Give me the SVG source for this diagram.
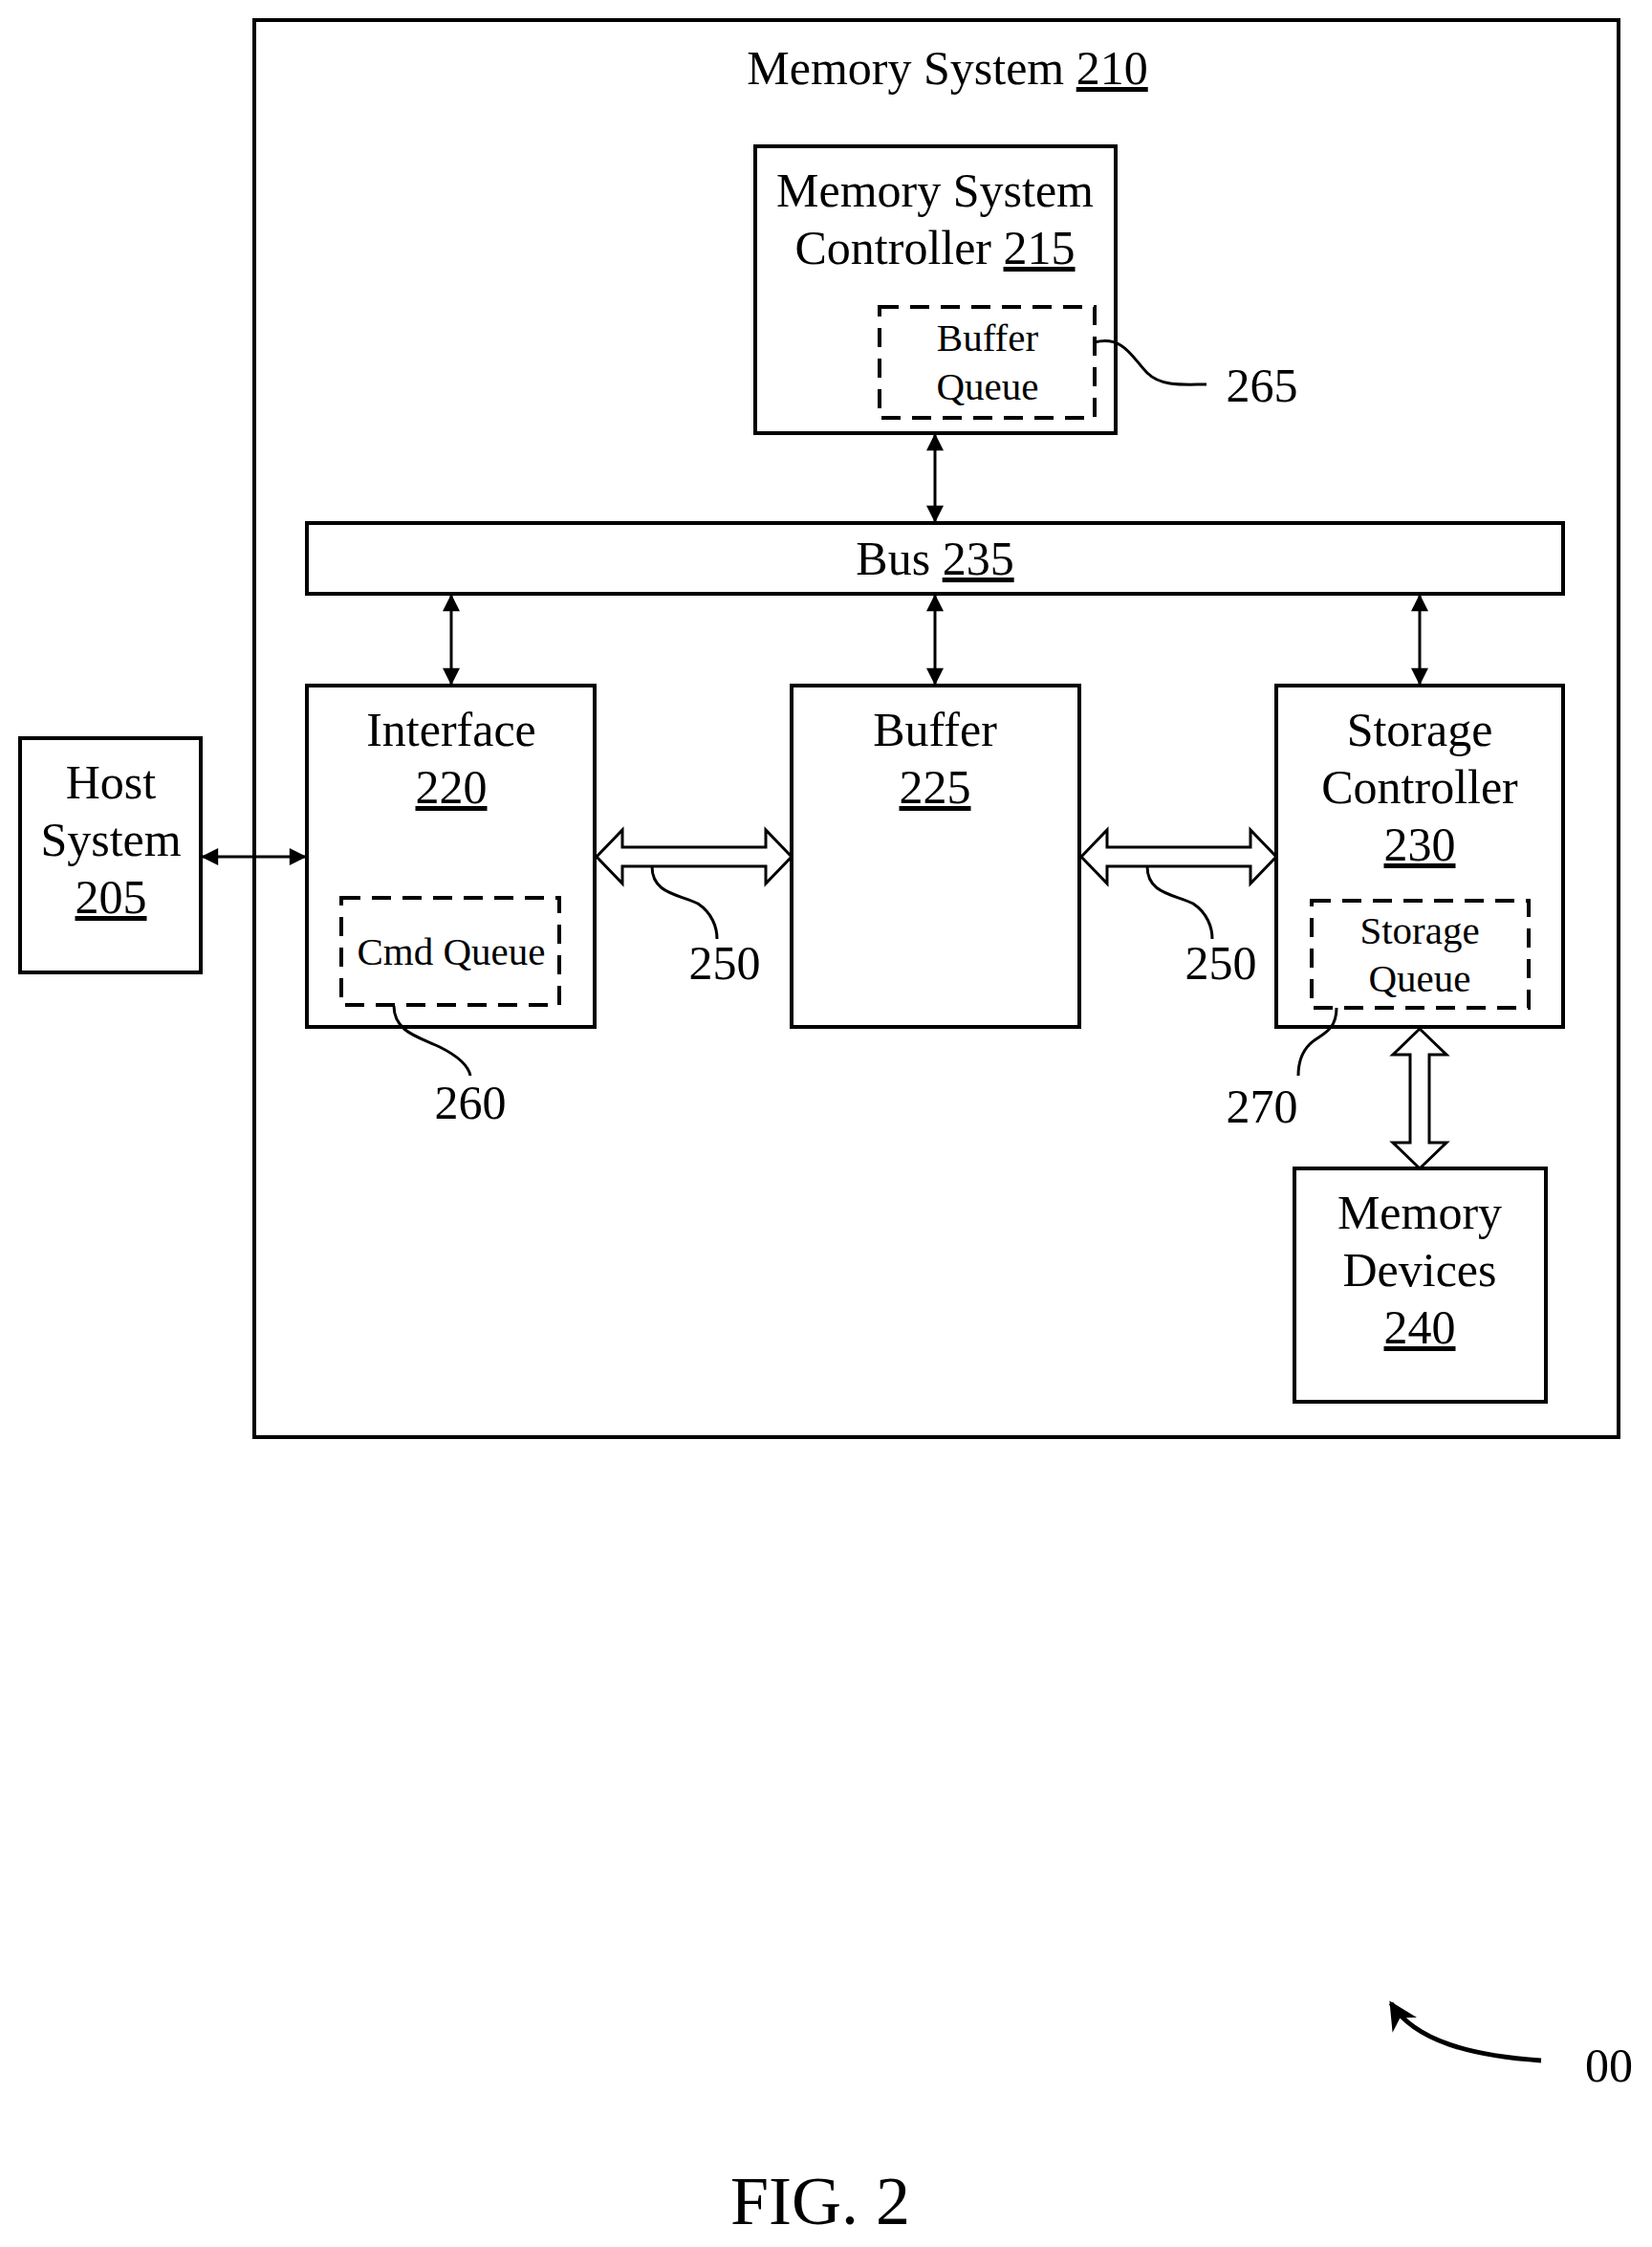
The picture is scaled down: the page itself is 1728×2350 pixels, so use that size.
<svg xmlns="http://www.w3.org/2000/svg" width="1728" height="2350" viewBox="0 0 1728 2350">
<style>
.b{fill:#fff;stroke:#000;stroke-width:4}
.d{fill:none;stroke:#000;stroke-width:4;stroke-dasharray:20 12}
.l{fill:none;stroke:#000;stroke-width:3}
.h{fill:#fff;stroke:#000;stroke-width:3}
text{font-family:"Liberation Serif",serif;font-size:50px;text-anchor:middle;fill:#000}
.s{font-size:41px}
</style>
<defs>
<marker id="a" viewBox="0 0 10 10" refX="9" refY="5" markerWidth="7" markerHeight="6" orient="auto-start-reverse"><path d="M0,0 L10,5 L0,10 z"/></marker>
<marker id="a2" viewBox="0 0 10 10" refX="9" refY="5" markerWidth="6" markerHeight="6" orient="auto"><path d="M0,0 L10,5 L0,10 L3,5 z"/></marker>
</defs>
<rect x="0" y="0" width="1728" height="2350" fill="#fff"/>
<g id="memsys"><rect class="b" x="266" y="21" width="1427" height="1482"/><text x="991" y="88">Memory System <tspan text-decoration="underline">210</tspan></text></g>
<g id="msc"><rect class="b" x="790" y="153" width="377" height="300"/><text x="978" y="216">Memory System</text><text x="978" y="276">Controller <tspan text-decoration="underline">215</tspan></text>
<rect class="d" x="920" y="321" width="225" height="116"/><text class="s" x="1033" y="367">Buffer</text><text class="s" x="1033" y="418">Queue</text></g>
<g id="bus"><rect class="b" x="321" y="547" width="1314" height="74"/><text x="978" y="601">Bus <tspan text-decoration="underline">235</tspan></text></g>
<g id="iface"><rect class="b" x="321" y="717" width="301" height="357"/><text x="472" y="780">Interface</text><text x="472" y="840" text-decoration="underline">220</text>
<rect class="d" x="357" y="939" width="228" height="112"/><text class="s" x="472" y="1009">Cmd Queue</text></g>
<g id="buffer"><rect class="b" x="828" y="717" width="301" height="357"/><text x="978" y="780">Buffer</text><text x="978" y="840" text-decoration="underline">225</text></g>
<g id="sc"><rect class="b" x="1335" y="717" width="300" height="357"/><text x="1485" y="780">Storage</text><text x="1485" y="840">Controller</text><text x="1485" y="900" text-decoration="underline">230</text>
<rect class="d" x="1372" y="942" width="227" height="112"/><text class="s" x="1485" y="987">Storage</text><text class="s" x="1485" y="1037">Queue</text></g>
<g id="host"><rect class="b" x="21" y="772" width="189" height="245"/><text x="116" y="835">Host</text><text x="116" y="895">System</text><text x="116" y="955" text-decoration="underline">205</text></g>
<g id="md"><rect class="b" x="1354" y="1222" width="263" height="244"/><text x="1485" y="1285">Memory</text><text x="1485" y="1345">Devices</text><text x="1485" y="1405" text-decoration="underline">240</text></g>
<g id="connectors">
<g class="l" marker-start="url(#a)" marker-end="url(#a)">
<line x1="978" y1="455" x2="978" y2="545"/>
<line x1="472" y1="623" x2="472" y2="715"/>
<line x1="978" y1="623" x2="978" y2="715"/>
<line x1="1485" y1="623" x2="1485" y2="715"/>
<line x1="212" y1="896" x2="319" y2="896"/>
</g>
<path class="h" d="M624,896 L651,868 L651,886 L801,886 L801,868 L828,896 L801,924 L801,906 L651,906 L651,924 Z"/>
<path class="h" d="M1131,896 L1158,868 L1158,886 L1308,886 L1308,868 L1335,896 L1308,924 L1308,906 L1158,906 L1158,924 Z"/>
<path class="h" d="M1485,1076 L1513,1103 L1495,1103 L1495,1195 L1513,1195 L1485,1222 L1457,1195 L1475,1195 L1475,1103 L1457,1103 Z"/>
<path class="l" d="M1145,358 C1175,350 1185,375 1200,390 C1215,405 1240,402 1262,402"/>
<path class="l" d="M412,1052 C412,1080 440,1085 460,1095 C480,1105 490,1115 492,1125"/>
<path class="l" d="M682,906 C682,935 710,935 730,945 C745,955 750,970 750,982"/>
<path class="l" d="M1200,906 C1200,935 1228,935 1248,945 C1263,955 1268,970 1268,982"/>
<path class="l" d="M1398,1054 C1398,1080 1380,1082 1370,1092 C1360,1102 1358,1115 1358,1125"/>
<path d="M1612,2155 C1540,2150 1480,2135 1455,2095" fill="none" stroke="#000" stroke-width="5" marker-end="url(#a2)"/>
</g>
<text x="1320" y="420">265</text>
<text x="492" y="1170">260</text>
<text x="758" y="1024">250</text>
<text x="1277" y="1024">250</text>
<text x="1320" y="1174">270</text>
<text x="1683" y="2177">00</text>
<text x="858" y="2326" style="font-size:72px">FIG. 2</text>
</svg>
